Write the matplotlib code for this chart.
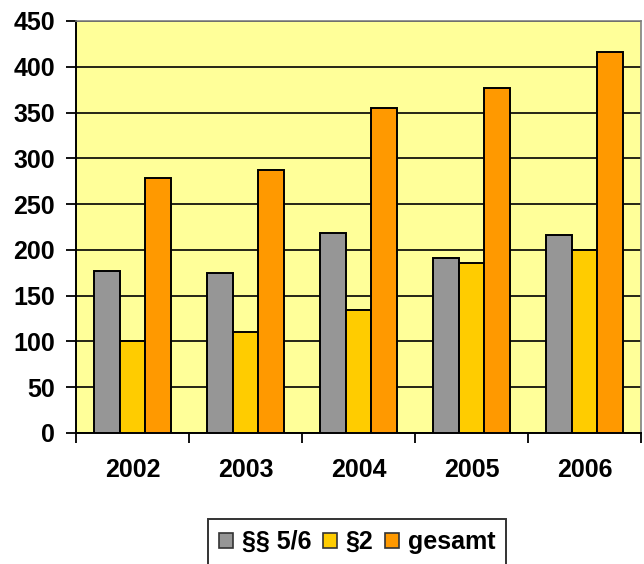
import matplotlib
matplotlib.use("Agg")
import matplotlib.pyplot as plt
import numpy as np

years = ["2002", "2003", "2004", "2005", "2006"]
paragraf_5_6 = [177, 175, 218, 191, 216]
paragraf_2 = [100, 110, 134, 186, 200]
gesamt = [279, 287, 355, 377, 416]

series = [
    ("§§ 5/6", paragraf_5_6, "#969696"),
    ("§2", paragraf_2, "#FFCC00"),
    ("gesamt", gesamt, "#FF9900"),
]

plt.rcParams["font.family"] = ["Liberation Sans", "DejaVu Sans"]
plt.rcParams["font.weight"] = "bold"
FS = 18

fig = plt.figure(figsize=(6.44, 5.64), dpi=100)
ax = fig.add_axes([76 / 644, 131 / 564, (641 - 76) / 644, (433 - 21) / 564])
ax.set_facecolor("#FFFF99")

x = np.arange(len(years)) + 0.5
w = 0.225
for i, (name, vals, col) in enumerate(series):
    ax.bar(x + (i - 1) * w, vals, width=w, color=col, edgecolor="black",
           linewidth=1.4, label=name, zorder=3)

ax.set_xlim(0, len(years))
ax.set_ylim(0, 450)
ax.set_yticks(np.arange(0, 451, 50))
ax.yaxis.grid(True, color="black", linewidth=1.2, zorder=1)
ax.set_axisbelow(True)

ax.set_xticks(np.arange(0, len(years) + 1))
ax.set_xticklabels([])
ax.set_xticks(x, minor=True)
ax.set_xticklabels(years, minor=True)
ax.tick_params(axis="x", which="major", direction="out", length=7, width=1.3, color="black")
ax.tick_params(axis="x", which="minor", length=0, pad=18, labelsize=FS)
ax.tick_params(axis="y", direction="out", length=7, width=1.3, labelsize=FS, pad=8)

for side in ("left", "bottom"):
    ax.spines[side].set_color("black")
    ax.spines[side].set_linewidth(1.4)
for side in ("top", "right"):
    ax.spines[side].set_color("#808080")
    ax.spines[side].set_linewidth(1.2)

leg = fig.legend(loc="upper center", bbox_to_anchor=(357 / 644, 1 - 519 / 564), ncol=3,
                 frameon=True, fancybox=False, edgecolor="black",
                 prop={"weight": "bold", "size": FS},
                 handlelength=0.56, handleheight=0.56, handletextpad=0.36,
                 columnspacing=0.45, borderpad=0.45, borderaxespad=0)
leg.get_frame().set_linewidth(1.4)
for h in leg.legend_handles:
    h.set_edgecolor("#333333")
    h.set_linewidth(1.2)

fig.savefig("out.png", dpi=100, facecolor="white")
